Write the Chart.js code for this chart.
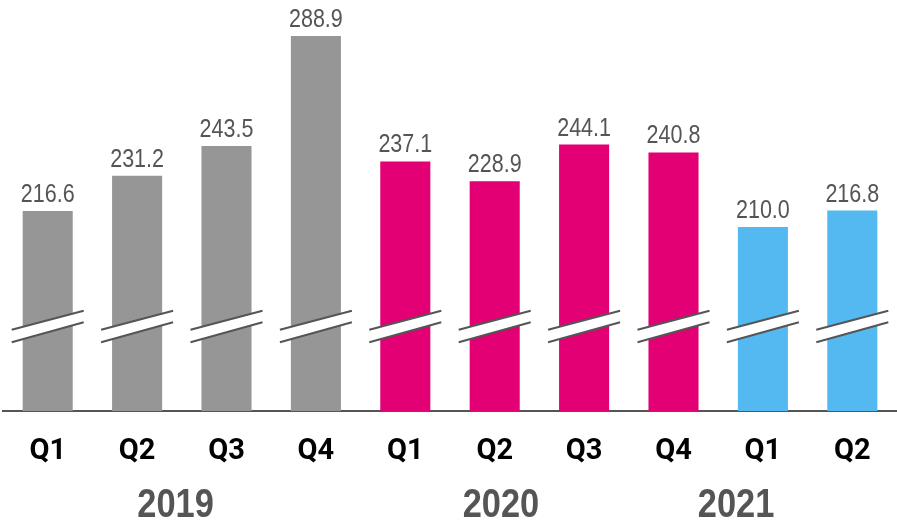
<!DOCTYPE html>
<html>
<head>
<meta charset="utf-8">
<script src="https://cdn.jsdelivr.net/npm/chart.js@4.4.0/dist/chart.umd.min.js"></script>
<style>
  html, body { margin: 0; padding: 0; background: #fff; }
  #wrap { width: 897px; height: 522px; position: relative; }
</style>
</head>
<body>
<div id="wrap"><canvas id="chartMain"></canvas></div>
<script>
// data
const quarters = ['Q1', 'Q2', 'Q3', 'Q4', 'Q1', 'Q2', 'Q3', 'Q4', 'Q1', 'Q2'];
const revenue = [216.6, 231.2, 243.5, 288.9, 237.1, 228.9, 244.1, 240.8, 210.0, 216.8];
const years = ['2019', '2020', '2021'];
const yearPos = [1.43, 5.07, 7.7];   // where each year label sits on the category axis
const barColors = ['#969696', '#969696', '#969696', '#969696',
  '#E20074', '#E20074', '#E20074', '#E20074',
  '#53B9F0', '#53B9F0'];
const breakValue = 171.5;

const NARROW = "'Liberation Sans', Arial, sans-serif";   // squeezed horizontally when drawn
const SQUEEZE = 0.86;

// draw text compressed horizontally (imitates a condensed face)
function narrowText(ctx, txt, x, y) {
  ctx.save();
  ctx.translate(x, y);
  ctx.scale(SQUEEZE, 1);
  ctx.fillText(txt, 0, 0);
  ctx.restore();
}

//-----PLUGINS
const breakMarks = {
  id: 'breakMarks',
  afterDatasetsDraw(chart) {
    const ctx = chart.ctx;
    const yMid = chart.scales.y.getPixelForValue(breakValue);
    chart.getDatasetMeta(0).data.forEach(function (bar) {
      const cx = bar.x;
      const l = cx - 36, r = cx + 36;
      const up = [yMid + 9.5, yMid - 9.5];
      const lo = [yMid + 22, yMid + 2];
      ctx.save();
      ctx.fillStyle = '#fff';
      ctx.beginPath();
      ctx.moveTo(l, up[0]); ctx.lineTo(r, up[1]);
      ctx.lineTo(r, lo[1]); ctx.lineTo(l, lo[0]);
      ctx.closePath();
      ctx.fill();
      ctx.strokeStyle = '#555';
      ctx.lineWidth = 2;
      ctx.beginPath();
      ctx.moveTo(l, up[0]); ctx.lineTo(r, up[1]);
      ctx.moveTo(l, lo[0]); ctx.lineTo(r, lo[1]);
      ctx.stroke();
      ctx.restore();
    });
  }
};

const valueLabels = {
  id: 'valueLabels',
  afterDatasetsDraw(chart) {
    const ctx = chart.ctx;
    ctx.save();
    ctx.font = '25px ' + NARROW;
    ctx.fillStyle = '#555';
    ctx.textAlign = 'center';
    ctx.textBaseline = 'alphabetic';
    chart.getDatasetMeta(0).data.forEach(function (bar, i) {
      narrowText(ctx, revenue[i].toFixed(1), bar.x, bar.y - 9);
    });
    ctx.restore();
  }
};

const yearLabels = {
  id: 'yearLabels',
  afterDraw(chart) {
    const ctx = chart.ctx;
    const xs = chart.scales.x;
    ctx.save();
    ctx.font = 'bold 40px ' + NARROW;
    ctx.fillStyle = '#555';
    ctx.textAlign = 'center';
    ctx.textBaseline = 'alphabetic';
    years.forEach(function (y, i) {
      narrowText(ctx, y, xs.getPixelForValue(yearPos[i]), 517);
    });
    ctx.restore();
  }
};

//-----CHART
const ctx = document.getElementById('chartMain').getContext('2d');
new Chart(ctx, {
  type: 'bar',
  data: {
    labels: quarters,
    datasets: [{
      data: revenue,
      backgroundColor: barColors,
      categoryPercentage: 1,
      barPercentage: 0.56
    }]
  },
  plugins: [breakMarks, valueLabels, yearLabels],
  options: {
    responsive: true,
    maintainAspectRatio: false,
    animation: false,
    layout: { padding: { left: 3, right: 0, top: 0, bottom: 30.2 } },
    plugins: { legend: { display: false }, tooltip: { enabled: false } },
    scales: {
      y: { display: false, min: 134, max: 303.8 },
      x: {
        grid: { display: false, drawTicks: false },
        border: { display: true, color: '#555', width: 2 },
        ticks: {
          color: '#000',
          padding: 23,
          font: { family: "Roboto, 'Liberation Sans', sans-serif", size: 29, weight: 'bold' }
        }
      }
    }
  }
});
</script>
</body>
</html>
